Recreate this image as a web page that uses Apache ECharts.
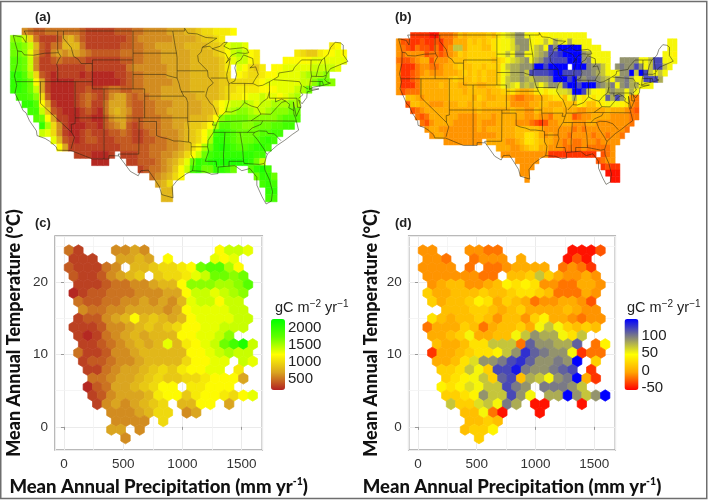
<!DOCTYPE html>
<html><head><meta charset="utf-8"><style>html,body{margin:0;padding:0;background:#fff}#c{width:709px;height:501px}</style>
<script src="https://cdn.jsdelivr.net/npm/echarts@6/dist/echarts.min.js"></script></head><body><div id="c"></div>
<script>
// Map a: 1 degree cells, north to south, west to east; base-36 digit = gC m-2 yr-1 / 100
const mapARows = [
"..654 45555 55433 33344 45566 66777 889aa bbbc.",
"ggea5 33347 86433 33333 45666 66677 77899 ab...",
"hhge8 43558 88533 33334 45566 77777 88889 9adee d.... ..... ..... bc...",
"hhgd7 43676 77654 44445 55566 67777 78888 9acef ecb.. ....b a99bc cdc..",
"iihe6 33454 44433 33334 45566 67777 78888 89bde ecb.. ..ccc ccddd ddd..",
"iihe6 33333 33343 33333 56666 66777 78888 89b.d ca9b. ccddd ddeee ed...",
"kkifa 43233 33232 22233 45566 66777 78888 89a.c baabc cdddd efffg",
"kkjhc 73222 23332 22223 45566 66677 78888 899aa aabcd ddddd eegih g....",
"kkjhe 73222 23343 34554 45566 67777 78888 89aab bbbcc cddde fh...",
".jjig a4222 23454 34677 54556 67777 77888 89abb cdded dcdef",
"..kki c7322 23453 35777 54455 66677 77788 acdee fedee fffgf",
"...jj e9432 22343 25787 64455 66777 77788 9cefg gfeef ggghh",
"....i hc733 22332 24677 54455 56677 78889 cghhh hgggg ghiii",
"..... kfa63 22233 24567 43455 56677 899ac fiihh gghhh iijj.",
"..... eda63 22343 33445 43345 56667 89ace jkjih hhhii jj...",
"..... ..d84 32344 33344 43344 55667 89acf kkjih hhijk j....",
"..... ...c7 33333 33334 44445 55667 8acfh klkji ijkkj",
"..... ..... .3332 223.3 33445 56678 acehj kkkkk kkjj.",
"..... ..... ....2 22... 33444 5678a dhkjk lllll lkhe.",
"..... ..... ..... ..... ..345 5679c ejkhh kkjh. .iklj",
"..... ..... ..... ..... ....5 678ac ..... ..... ..hkk h....",
"..... ..... ..... ..... ..... 78a.. ..... ..... ...jk j....",
"..... ..... ..... ..... ..... .88.. ..... ..... ....k k....",
"..... ..... ..... ..... ..... .88.. ..... ..... ....j j...."
];
// Map b: same grid; digit d means (d - 5) * 10 gC m-2 yr-1
const mapBRows = [
"...11 11003 33465 66667 68abc eeaa9 99aaa aaaaa",
"42211 21121 33555 76767 89aab eeea9 acadb adaaa a.... ..... ..... ..aa.",
"43213 22131 34cc5 77766 89aab deeac dahek kkkka aaa.. ..... ..... ..aa.",
"43444 42332 34576 77777 79aca eeaac dehhi kkkke daaaa ..... ..... .aa9.",
"32234 55244 45666 77777 678ab cdead eghhh hkkke faaaa ..eee eaach haaa.",
"41113 44334 55676 67767 77acd deeek khkkk k.kkk feeca .efee heach hca..",
"41123 45444 55567 67676 67abd dechh hhikk hhhhf fedca aaeek ckhca ca...",
"41123 55555 56766 67676 67acd dedce eefkk khkfe ffedc aeefd aahhh d....",
"41113 55556 56655 66556 67acb adcdc aceec hkkhk kkfed faefd daaa.",
"42333 55555 56665 66665 66778 65568 a8aab bckkh ca9ac eddad a....",
"..665 45555 56666 65765 56654 33445 56788 6ada8 a8aag dhea4 3....",
"..266 55444 55566 56656 66664 44455 66555 66698 6689a aa984 3....",
"...23 45555 55555 55655 55556 55446 55566 55544 55556 55543 2....",
"....3 23555 55544 44555 45555 55445 44355 55234 45555 44443 3....",
"..... 32455 55444 44544 45555 44432 12445 55444 55444 44443",
"..... .4554 44444 44545 55555 66666 54444 44343 44444 4443.",
"..... ..455 44444 44444 45555 66887 54544 43444 43443 443..",
"..... ..... 44444 444.5 55544 56887 65544 34334 44344 44...",
"..... ..... ..... ..... .5554 45677 55444 33334 33333 4....",
"..... ..... ..... ..... ..444 44444 44111 11111 11.23 4....",
"..... ..... ..... ..... ..... 44444 ..... ..... ..234 4....",
"..... ..... ..... ..... ..... .444. ..... ..... ...12 11...",
"..... ..... ..... ..... ..... .44.. ..... ..... ....0 00...",
"..... ..... ..... ..... ..... ..4.. ..... ..... ..... 00..."
];
// Hex bins, top row first; 21 columns per row
const hexCRows = [
"53...6676.......ceed.","333..7787.c....dcd...","433356.889aabchiifc..","43346789.9aabdehhgh..",
".33345566788cgggffgi.","234455566677ceedefg..",".544556676768deecee..",".65566777767cddddee..",
".344678c89878cddddee.","33346678989accddeee..",".32356787888ccddeg...",".334567878d8bcdehjle.",
".533466788888ccdefee.",".34456678888accdd.ed.","..33567789a9bccdd.b..","..5567789a99aabccc7..",
"..2457789acc.bbccc...","..3467778bcc9bccbacd.","...3676789a.88cc.7...","....66678aa.67.......",
".....6666.a..........","....77.6.............","......6.............."
];
const hexDRows = [
"44...4433.......0002.","443..3444.5....020...","4444.3.3345555.3431..","44444433.667c754454..",
".4566445698984433554.","7556667667887633354..",".756679857653445542..","..66677656755556544..",
".8656676466479554344.","355576356675aca7676..",".5567a5566acedda8c...",".655688ccc3geeddg.39.",
".15567889ceigfeea133.",".5568beefhigeefek.7..","..778ca7hhjfeefgh.1..","..789ac7gh6dcaefk51..",
"..989bacchfe.fffec...","..7789ecchea.ddkecek.","...c77bcafd.00...0...","....66a30...0........",
".....6676............","....6779.............","......7.............."
];
// State lines and coast, lon/lat
const borders = [
[[-124.7,48.4],[-123.1,48.15],[-122.5,47.4],[-122.4,48.3],[-122.8,49],[-95.15,49],[-95.15,49.38],[-94.6,48.7],[-93,48.6],[-91.5,48.1],[-89.6,48],[-92.1,46.75],[-90.8,46.9],[-90.4,46.55],[-89,46.9],[-88.4,47.4],[-87.8,47.45],[-88.4,46.9],[-87.4,46.5],[-85,46.7],[-84.4,46.5],[-84.1,46],[-84.7,45.9],[-86,46],[-87,45.7],[-87.6,45.1],[-88,44.55],[-87.3,45.2],[-87.5,44.3],[-87.9,43],[-87.8,42.3],[-87.5,41.7],[-86.5,42.1],[-86.2,43],[-86.5,43.9],[-86.2,44.7],[-85.5,45],[-85,45.7],[-84.7,45.8],[-83.4,45.2],[-83.3,44.3],[-83.9,43.9],[-82.9,44.05],[-82.45,43],[-83.1,42.2],[-83.4,41.75],[-82.5,41.4],[-81.7,41.5],[-80.5,42],[-79,42.7],[-78.9,43.2],[-76.5,43.5],[-76.2,44],[-75,45],[-71.5,45],[-71,45.3],[-70.4,45.8],[-70,46.7],[-69.2,47.45],[-68.3,47.35],[-67.8,47.05],[-67.8,45.7],[-67,44.8],[-68.5,44.3],[-70,43.8],[-70.7,43],[-70.8,42.6],[-71,42.3],[-70.6,41.95],[-70,41.8],[-70,41.6],[-71.2,41.5],[-72.9,41.25],[-73.7,40.95],[-72,41],[-74,40.6],[-74.1,39.8],[-74.9,38.95],[-75.5,39.5],[-75.1,38.6],[-75.9,37.2],[-76.4,39.2],[-76.3,37.5],[-76,36.9],[-75.5,35.3],[-76.6,34.7],[-77.9,33.9],[-79.2,33.2],[-80.9,32],[-81.4,30.7],[-81.3,29.8],[-80.5,28.4],[-80,26.8],[-80.2,25.5],[-81.1,25.1],[-81.8,26.1],[-82.7,27.7],[-82.7,28.8],[-83.9,30],[-85.3,29.7],[-86.5,30.4],[-88,30.3],[-89.4,30.2],[-89.4,29.3],[-90.5,29.2],[-91.8,29.6],[-93.8,29.7],[-94.8,29.3],[-96.4,28.4],[-97.3,27.5],[-97.15,25.95],[-99.1,26.4],[-99.5,27.5],[-100.4,28.6],[-101.4,29.77],[-102.7,29.7],[-103.15,29],[-104.5,29.6],[-106.5,31.75],[-108.2,31.78],[-108.2,31.33],[-111.07,31.33],[-114.8,32.5],[-117.1,32.53],[-117.3,33],[-118.4,33.75],[-119.2,34.15],[-120.6,34.55],[-120.7,35.2],[-121.9,36.6],[-122.5,37.7],[-123,38],[-123.8,39.4],[-124.4,40.4],[-124.1,41.5],[-124.5,42.8],[-124,44.5],[-123.95,46.2],[-124.7,48.4]],
[[-124,46.25],[-123.2,46.15],[-122.8,45.7],[-121.2,45.65],[-119.3,45.93],[-116.92,46]],
[[-117.04,49],[-117.04,46.4],[-116.92,46],[-116.5,45.5],[-116.9,45],[-117.2,44.4],[-117.03,43.8],[-117.03,42]],
[[-124.2,42],[-111.05,42]],
[[-120,42],[-120,39],[-114.63,35],[-114.15,34.3],[-114.5,33.4],[-114.72,32.72]],
[[-114.04,42],[-114.04,36.2],[-114.7,36.1],[-114.63,35]],
[[-114.04,37],[-94.62,37]],
[[-109.05,41],[-109.05,31.33]],
[[-111.05,45],[-111.05,41],[-102.05,41],[-102.05,37]],
[[-111.05,45],[-104.05,45]],
[[-104.05,49],[-104.05,41]],
[[-104.05,43],[-98.5,43],[-97.9,42.8],[-96.45,42.5]],
[[-116.05,49],[-116.05,48],[-114.7,46.7],[-114.3,45.5],[-113.5,45.1],[-113,44.5],[-111.05,44.5]],
[[-104.05,45.94],[-96.55,45.94]],
[[-97.2,49],[-96.8,47],[-96.55,45.94],[-96.45,45.3],[-96.45,42.5],[-96.1,41.7],[-95.9,41],[-95.3,40],[-94.9,39.8],[-94.6,39.1],[-94.62,36.5],[-94.45,35.4],[-94.48,33.65],[-94.04,33.55],[-94.04,31.9],[-93.55,31.2],[-93.7,30.1],[-93.8,29.7]],
[[-96.45,43.5],[-91.2,43.5]],
[[-92.1,46.75],[-92.3,46.1],[-92.9,45.6],[-92.75,44.75],[-91.2,43.5],[-91.1,42.7],[-90.2,41.8],[-91.1,41.2],[-91.4,40.4],[-91.5,40],[-90.7,39],[-90.2,38.7],[-89.5,37.3],[-89.15,37],[-89.5,36.5],[-89.7,36],[-90.1,35.1],[-91.1,33.9],[-91.2,33],[-91,32.4],[-91.6,31],[-89.73,31],[-89.6,30.2]],
[[-95.8,40.6],[-91.7,40.6]],
[[-102.05,40],[-95.3,40]],
[[-103,37],[-103,36.5],[-100,36.5],[-100,34.55],[-99.2,34.3],[-98,34.1],[-97,33.8],[-96,33.8],[-94.5,33.65]],
[[-103,36.5],[-103.05,32],[-106.6,32],[-106.5,31.75]],
[[-94.62,36.5],[-90.15,36.5],[-90.37,36],[-89.7,36]],
[[-94.04,33],[-91.2,33]],
[[-90.1,35],[-83.1,35],[-82.4,35.2],[-81,35.15],[-80.8,34.85],[-79.7,34.8],[-78.55,33.85]],
[[-89.5,36.5],[-88.05,36.5],[-88.05,36.65],[-83.68,36.6],[-81.68,36.59],[-75.9,36.55]],
[[-84.32,35],[-83.5,35.6],[-82,36.1],[-81.68,36.59]],
[[-88.2,35],[-88.45,31.9],[-88.4,30.3]],
[[-85.6,35],[-85.15,32.85],[-85,31],[-84.86,30.7],[-82.2,30.57],[-82.05,30.37],[-82,30.75],[-81.45,30.7]],
[[-87.5,30.3],[-87.5,31],[-85,31]],
[[-83.1,35],[-83.35,34.7],[-82.6,34],[-81.4,32.6],[-81.1,32.1],[-80.9,32]],
[[-89.15,37],[-88.1,37.85],[-87.1,37.8],[-85.8,38.2],[-84.8,39.1],[-83.7,38.65],[-82.6,38.4],[-81.75,39.2],[-80.85,39.7],[-80.52,40.64]],
[[-82.6,38.4],[-82,37.5],[-83.68,36.6]],
[[-87.53,41.7],[-87.53,39.35],[-88.05,37.8]],
[[-84.8,41.76],[-84.8,39.1]],
[[-87.1,41.76],[-84.8,41.76],[-83.4,41.73]],
[[-90.65,42.5],[-87.8,42.5]],
[[-90.4,46.55],[-88.1,45.9],[-87.6,45.1]],
[[-80.52,42],[-80.52,39.72],[-75.79,39.72],[-75.7,38.46],[-75.05,38.45]],
[[-79.76,42.27],[-79.76,42],[-75.35,42],[-75,41.5],[-74.7,41.36],[-75.13,40.9],[-75.2,40.6],[-74.75,40.2],[-75.5,39.7]],
[[-74.7,41.36],[-73.9,41]],
[[-76.3,38],[-77.2,38.4],[-77.05,38.85],[-77.7,39.3],[-78.4,39.6],[-79.48,39.2],[-79.48,39.72]],
[[-77.7,39.3],[-78.4,39.15],[-79.3,38.4],[-80.3,37.5],[-81.97,37.54]],
[[-73.35,45],[-73.4,43.6],[-73.27,42.75],[-73.5,42.05],[-73.65,41]],
[[-71.5,45],[-72.05,44.1],[-72.46,42.73]],
[[-73.27,42.75],[-71.3,42.7],[-70.8,42.87]],
[[-73.5,42.05],[-71.38,42.02],[-71.2,41.5]],
[[-71.8,42.02],[-71.85,41.32]],
[[-71.05,45.3],[-70.7,43.1]]
];
const gppStops = ['#b22222','#daa520','#ffff00','#60ff00','#00ff00'];
const diffStops = ['#ff0000','#ffa500','#ffff00','#808080','#0000ff'];
const xTicks = [0,500,1000,1500];
const yTicks = [0,10,20];
const minorX = [250,750,1250];
const minorY = [5,15,25];
const axisXTitle = 'Mean Annual Precipitation (mm yr{sup|-1})';
const axisYTitle = 'Mean Annual Temperature (°C)';
const unitsTitle = 'gC m{sup|−2} yr{sup|−1}';

const gppVal = ch => parseInt(ch,36)*100;
const diffVal = ch => (parseInt(ch,36)-5)*10;
function mapCells(rows, conv){
  const out=[];
  rows.forEach((row,r)=>{
    const s=row.replace(/ /g,'');
    for(let c=0;c<s.length;c++){ if(s[c]!=='.') out.push([-125.2+0.5+c, 48.9-r, conv(s[c])]); }
  });
  return out;
}
function hexCells(rows, conv){
  const out=[];
  rows.forEach((s,r)=>{
    for(let k=0;k<s.length;k++){ if(s[k]!=='.') out.push([42+79.6*k+(r%2?39.8:0), 24.4-1.18*r, conv(s[k])]); }
  });
  return out;
}
const renderCell=(p,api)=>{
  const lon=api.value(0),lat=api.value(1),a=api.coord([lon-.5,lat+.5]),b=api.coord([lon+.5,lat-.5]),col=api.visual('color');
  return {type:'rect',shape:{x:a[0],y:a[1],width:b[0]-a[0],height:b[1]-a[1]},style:{fill:col,stroke:col,lineWidth:.5}};
};
const renderHex=(p,api)=>{
  const x=api.value(0),y=api.value(1),hw=39.8,v=.787,col=api.visual('color');
  const pts=[[x,y+v],[x+hw,y+v/2],[x+hw,y-v/2],[x,y-v],[x-hw,y-v/2],[x-hw,y+v/2]].map(q=>api.coord(q));
  return {type:'polygon',shape:{points:pts},style:{fill:col,stroke:col,lineWidth:.7}};
};
const borderData=[];
borders.forEach(b=>{b.forEach(p=>borderData.push(p));borderData.push(['-','-']);});

const FONT='Liberation Sans', BOLD='Lato';
const supTitle={fontSize:10.5,fontWeight:900,fontFamily:BOLD,verticalAlign:'top',lineHeight:22,color:'#111',padding:[0,0,0,0]};
const panel=(text,left,top)=>({text,left,top,padding:0,textStyle:{fontFamily:FONT,fontSize:13,fontWeight:'bold',color:'#222'}});
const unit=(left,top)=>({text:unitsTitle,left,top,padding:0,textStyle:{fontFamily:FONT,fontSize:14.5,fontWeight:'normal',color:'#222',lineHeight:18,
  rich:{sup:{fontFamily:FONT,fontSize:10,color:'#222',verticalAlign:'top',lineHeight:18}}}});

const grids=[
 {left:5.7,top:23.76,width:348,height:188.2},
 {left:392.4,top:28.75,width:285.6,height:162.5},
 {left:55,top:236,width:207.3,height:214,show:true,borderColor:'#a3a3a3',borderWidth:1.5,backgroundColor:'#fff'},
 {left:408.7,top:236,width:206.6,height:214,show:true,borderColor:'#a3a3a3',borderWidth:1.5,backgroundColor:'#fff'},
 {left:271,top:319,width:14,height:71},
 {left:624.5,top:319,width:14,height:71}
];
const hidden=(min,max,i)=>({type:'value',min,max,show:false,gridIndex:i,splitLine:{show:false}});
const plotX=(min,max,i)=>({type:'value',gridIndex:i,min,max,splitNumber:4,name:axisXTitle,nameLocation:'middle',nameGap:26,
  nameTextStyle:{fontFamily:BOLD,fontWeight:900,fontSize:18.5,color:'#111',lineHeight:22,rich:{sup:supTitle}},
  axisLine:{show:false},axisTick:{length:3,lineStyle:{color:'#999'}},
  axisLabel:{showMinLabel:false,showMaxLabel:false,margin:7,fontFamily:FONT,fontSize:13.5,color:'#333',formatter:v=>xTicks.includes(v)?String(v):''},
  splitLine:{show:true,lineStyle:{color:'#ebebeb',width:1}}});
const plotY=(i)=>({type:'value',gridIndex:i,min:-3.2,max:26.4,splitNumber:3,name:axisYTitle,nameLocation:'middle',nameRotate:90,nameGap:i===2?32:29,
  nameTextStyle:{fontFamily:BOLD,fontWeight:900,fontSize:18,color:'#111',padding:[0,0,0,20]},
  axisLine:{show:false},axisTick:{length:3,lineStyle:{color:'#999'}},
  axisLabel:{showMinLabel:false,showMaxLabel:false,margin:7,fontFamily:FONT,fontSize:13.5,color:'#333',formatter:v=>yTicks.includes(v)?String(v):''},
  splitLine:{show:true,lineStyle:{color:'#ebebeb',width:1}}});
const legY=(min,max,i,n)=>({type:'value',gridIndex:i,min,max,splitNumber:n,position:'right',axisLine:{show:false},axisTick:{show:false},splitLine:{show:false},
  axisLabel:{showMinLabel:false,showMaxLabel:false,margin:3,fontFamily:FONT,fontSize:15,color:'#222',formatter:v=>String(v)}});
const minor=()=>({silent:true,symbol:'none',z:1,animation:false,label:{show:false},lineStyle:{color:'#f3f3f3',width:.8,type:'solid'},
  data:minorX.map(v=>({xAxis:v})).concat(minorY.map(v=>({yAxis:v})))});
const borderSeries=(i)=>({type:'line',xAxisIndex:i,yAxisIndex:i,data:borderData,symbol:'none',showSymbol:false,connectNulls:false,silent:true,z:5,
  lineStyle:{color:'#1f1f10',width:.6,opacity:.85}});
const cellSeries=(i,d)=>({type:'custom',xAxisIndex:i,yAxisIndex:i,data:d,renderItem:renderCell,encode:{x:0,y:1},silent:true});
const hexSeries=(i,d)=>({type:'custom',xAxisIndex:i,yAxisIndex:i,data:d,renderItem:renderHex,encode:{x:0,y:1},silent:true,markLine:minor()});

const option={
 animation:false,backgroundColor:'#fff',
 title:[panel('(a)',35,11),panel('(b)',395,11),panel('(c)',35,217),panel('(d)',395,217),unit(275,299),unit(627,299)],
 grid:grids,
 xAxis:[hidden(-126,-66,0),hidden(-126,-66,1),plotX(-76,1675,2),plotX(-79,1680,3),hidden(0,1,4),hidden(0,1,5)],
 yAxis:[hidden(24,50,0),hidden(24,50,1),plotY(2),plotY(3),legY(176,2265,4,4),legY(-56,149,5,4)],
 visualMap:[
  {type:'continuous',min:176,max:2265,dimension:2,seriesIndex:[0,4],inRange:{color:gppStops},left:271,top:319,itemWidth:14,itemHeight:71,padding:0,text:null,showLabel:false,calculable:false,hoverLink:false,realtime:false},
  {type:'continuous',min:-56,max:149,dimension:2,seriesIndex:[2,5],inRange:{color:diffStops},left:624.5,top:319,itemWidth:14,itemHeight:71,padding:0,text:null,showLabel:false,calculable:false,hoverLink:false,realtime:false}
 ],
 graphic:[{type:'rect',silent:true,z:100,shape:{x:.75,y:1.5,width:706,height:497},style:{fill:'none',stroke:'#6e6e6e',lineWidth:1.5}}],
 series:[
  cellSeries(0,mapCells(mapARows,gppVal)),borderSeries(0),
  cellSeries(1,mapCells(mapBRows,diffVal)),borderSeries(1),
  hexSeries(2,hexCells(hexCRows,gppVal)),hexSeries(3,hexCells(hexDRows,diffVal)),
  {type:'line',xAxisIndex:4,yAxisIndex:4,data:[],silent:true},
  {type:'line',xAxisIndex:5,yAxisIndex:5,data:[],silent:true}
 ]
};
echarts.init(document.getElementById('c'),null,{renderer:'canvas'}).setOption(option);
</script></body></html>
